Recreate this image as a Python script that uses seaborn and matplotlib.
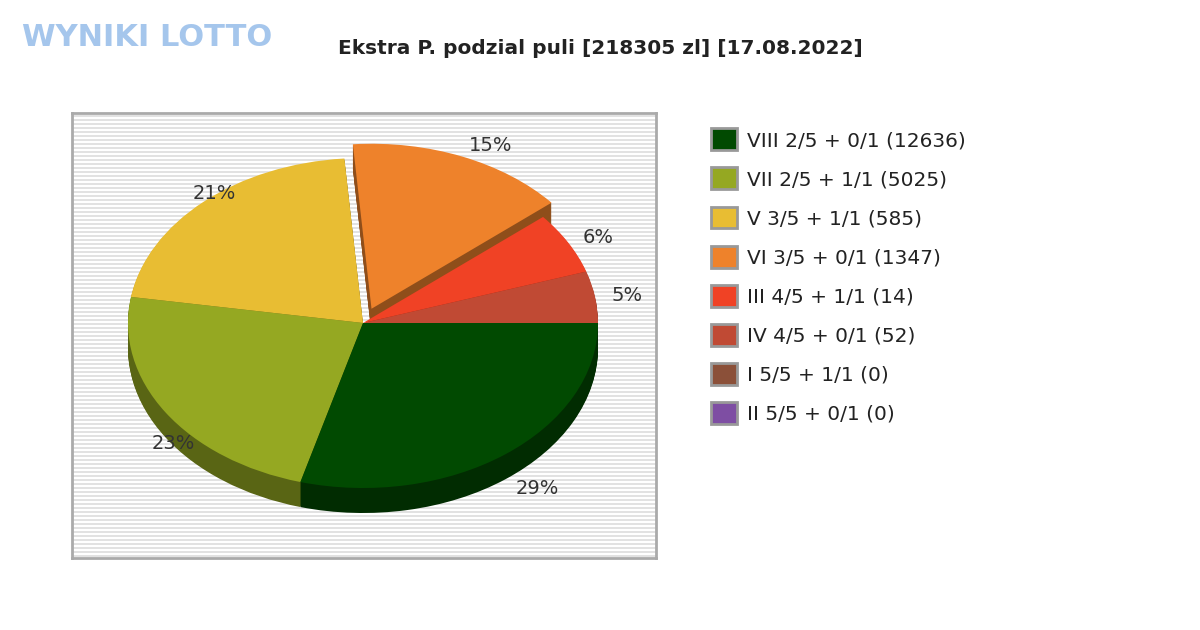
import matplotlib
matplotlib.use("Agg")
import matplotlib.pyplot as plt
import seaborn as sns
import numpy as np
from matplotlib.patches import Patch

sns.set_style("white")
plt.rcParams['font.family'] = ['DejaVu Sans']

# legend entries (all prizes)
legend_labels = ["VIII 2/5 + 0/1 (12636)", "VII 2/5 + 1/1 (5025)", "V 3/5 + 1/1 (585)",
                 "VI 3/5 + 0/1 (1347)", "III 4/5 + 1/1 (14)", "IV 4/5 + 0/1 (52)",
                 "I 5/5 + 1/1 (0)", "II 5/5 + 0/1 (0)"]
legend_colors = ["#014a01", "#95a822", "#e8bd33", "#ee822b", "#f04225", "#c04a34",
                 "#8b5039", "#7e4ea3"]

# pie slices, counterclockwise from 0 deg
slice_pct = [5, 6, 15, 21, 23, 29]
slice_colors = ["#c04a34", "#f04225", "#ee822b", "#e8bd33", "#95a822", "#014a01"]
slice_explode = [0, 0, 22, 0, 0, 0]

fig = plt.figure(figsize=(12, 6.3), dpi=100)
ax = fig.add_axes([72 / 1200, 72 / 630, 584 / 1200, 445 / 630])

k = 165 / 235  # vertical squash for the tilted look
rx = 235
cx, cy = 363, (630 - 323) / k

# striped background
for y in np.arange(116, 558, 4):
    ax.axhline((630 - y) / k, color="#dddddd", lw=1.2, zorder=0)

def darker(c, f=0.6):
    r, g, b = matplotlib.colors.to_rgb(c)
    return (r * f, g * f, b * f)

# 3D depth
for d in range(25, 0, -1):
    ax.pie(slice_pct, colors=[darker(c) for c in slice_colors], startangle=0,
           counterclock=True, explode=slice_explode, radius=rx,
           center=(cx, cy - d / k), frame=True, wedgeprops=dict(linewidth=0))
wedges, texts = ax.pie(slice_pct, colors=slice_colors, startangle=0, counterclock=True,
                       explode=slice_explode, radius=rx, center=(cx, cy),
                       labels=[f"{p}%" for p in slice_pct], labeldistance=1.07,
                       textprops=dict(fontsize=14, color="#333333"), frame=True,
                       wedgeprops=dict(linewidth=0))
# lower labels sit below the pie edge in the reference
for t, p in zip(texts, slice_pct):
    x, y = t.get_position()
    if y < cy - 50:
        t.set_position((x, y - 25 / k))
ax.set_aspect('auto')
ax.set_xlim(72, 656)
ax.set_ylim(72 / k, 517 / k)
ax.set_xticks([])
ax.set_yticks([])
for s in ax.spines.values():
    s.set_color("#aaaaaa")
    s.set_linewidth(2)

fig.text(0.5, 0.923, "Ekstra P. podzial puli [218305 zl] [17.08.2022]", ha="center",
         va="center", fontsize=14.5, fontweight="bold", color="#222222")
fig.text(0.018, 0.94, "WYNIKI LOTTO", ha="left", va="center", fontsize=22,
         fontweight="bold", color="#8fb8e8", alpha=0.8)

handles = [Patch(facecolor=c, edgecolor="#999999", linewidth=2) for c in legend_colors]
fig.legend(handles, legend_labels, loc="upper left", bbox_to_anchor=(0.577, 0.825),
           frameon=False, fontsize=14.5, handlelength=1.3, handleheight=1.3,
           labelspacing=0.85, handletextpad=0.5, labelcolor="#222222")

fig.savefig("out.png", dpi=100)
